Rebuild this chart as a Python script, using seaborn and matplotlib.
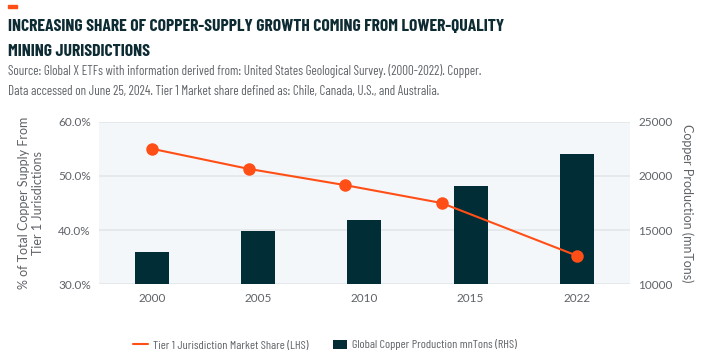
import matplotlib
matplotlib.use("Agg")
import matplotlib.pyplot as plt
from matplotlib.lines import Line2D
from matplotlib.patches import Patch, Rectangle
import seaborn as sns

# data
years = [2000, 2005, 2010, 2015, 2022]
year_labels = ["2000", "2005", "2010", "2015", "2022"]
tier1_share = [55.0, 51.3, 48.3, 45.0, 35.3]          # % (LHS)
production = [13000, 14900, 15900, 19100, 22000]     # mnTons (RHS)
left_ticks = [30, 40, 50, 60]
right_ticks = [10000, 15000, 20000, 25000]

ORANGE = "#FF4F17"
TEAL = "#012D36"
GREY = "#5F6368"
NARROW = ["Barlow Condensed", "Barlow Semi Condensed", "DejaVu Sans"]

sns.set_theme(style="white")
plt.rcParams["font.family"] = ["Lato", "DejaVu Sans"]

fig = plt.figure(figsize=(7.14, 3.59), dpi=100)
rect = [0.1387, 0.208, 0.7433, 0.453]

# bars on a categorical axis, value scale on the right
ax = fig.add_axes(rect)
ax.set_facecolor("#F4F7F9")
sns.barplot(x=year_labels, y=production, color=TEAL, width=0.32,
            saturation=1, edgecolor="none", ax=ax)
ax.set_xlim(-0.5, 4.5)
ax.set_ylim(10000, 25000)
ax.set_yticks(right_ticks)
ax.yaxis.tick_right()
ax.yaxis.set_label_position("right")
ax.set_ylabel("Copper Production (mnTons)", rotation=270, labelpad=15,
              fontsize=9, color=GREY)
ax.set_xlabel("")
ax.grid(axis="y", color="#E3E7EA", linewidth=1.2)
ax.set_axisbelow(True)
ax.tick_params(axis="both", length=0, labelsize=8.5, colors=GREY, pad=6)
for s in ax.spines.values():
    s.set_visible(False)

# line on a year scale so the points sit at their real year
ax2 = fig.add_axes(rect)
ax2.set_facecolor("none")
sns.lineplot(x=years, y=tier1_share, color=ORANGE, linewidth=1.5,
             marker="o", markersize=9, markeredgewidth=0, ax=ax2)
ax2.set_xlim(2000 - 0.5 * 5.5, 2022 + 0.5 * 5.5)
ax2.set_ylim(30, 60)
ax2.set_yticks(left_ticks)
ax2.set_yticklabels([f"{t:.1f}%" for t in left_ticks])
ax2.set_xticks([])
ax2.set_ylabel("% of Total Copper Supply From\nTier 1 Jurisdictions",
               fontsize=9, color=GREY, labelpad=10)
ax2.tick_params(axis="both", length=0, labelsize=8.5, colors=GREY, pad=6)
for s in ax2.spines.values():
    s.set_visible(False)

# header
fig.patches.append(Rectangle((8 / 714, 1 - 8 / 359), 9 / 714, 3 / 359,
                             transform=fig.transFigure, color=ORANGE))
fig.text(8 / 714, 1 - 31 / 359,
         "INCREASING SHARE OF COPPER-SUPPLY GROWTH COMING FROM LOWER-QUALITY",
         fontsize=12.7, fontweight="bold", color="#0D2B33", family=NARROW)
fig.text(8 / 714, 1 - 56 / 359, "MINING JURISDICTIONS",
         fontsize=12.7, fontweight="bold", color="#0D2B33", family=NARROW)
fig.text(8 / 714, 1 - 75.5 / 359,
         "Source: Global X ETFs with information derived from: United States Geological Survey. (2000-2022). Copper.",
         fontsize=9.4, color=GREY, family=NARROW)
fig.text(8 / 714, 1 - 94.5 / 359,
         "Data accessed on June 25, 2024. Tier 1 Market share defined as: Chile, Canada, U.S., and Australia.",
         fontsize=9.4, color=GREY, family=NARROW)

handles = [Line2D([0], [0], color=ORANGE, linewidth=1.5),
           Patch(facecolor=TEAL, edgecolor="none")]
labels = ["Tier 1 Jurisdiction Market Share (LHS)",
          "Global Copper Production mnTons (RHS)"]
fig.legend(handles, labels, loc="center", bbox_to_anchor=(325 / 714, 1 - 345 / 359),
           ncol=2, frameon=False, handlelength=1.2, handleheight=0.7,
           handletextpad=0.4, columnspacing=2.0, labelcolor=GREY,
           prop={"family": NARROW, "size": 8.8})

fig.savefig("out.png", dpi=100)
